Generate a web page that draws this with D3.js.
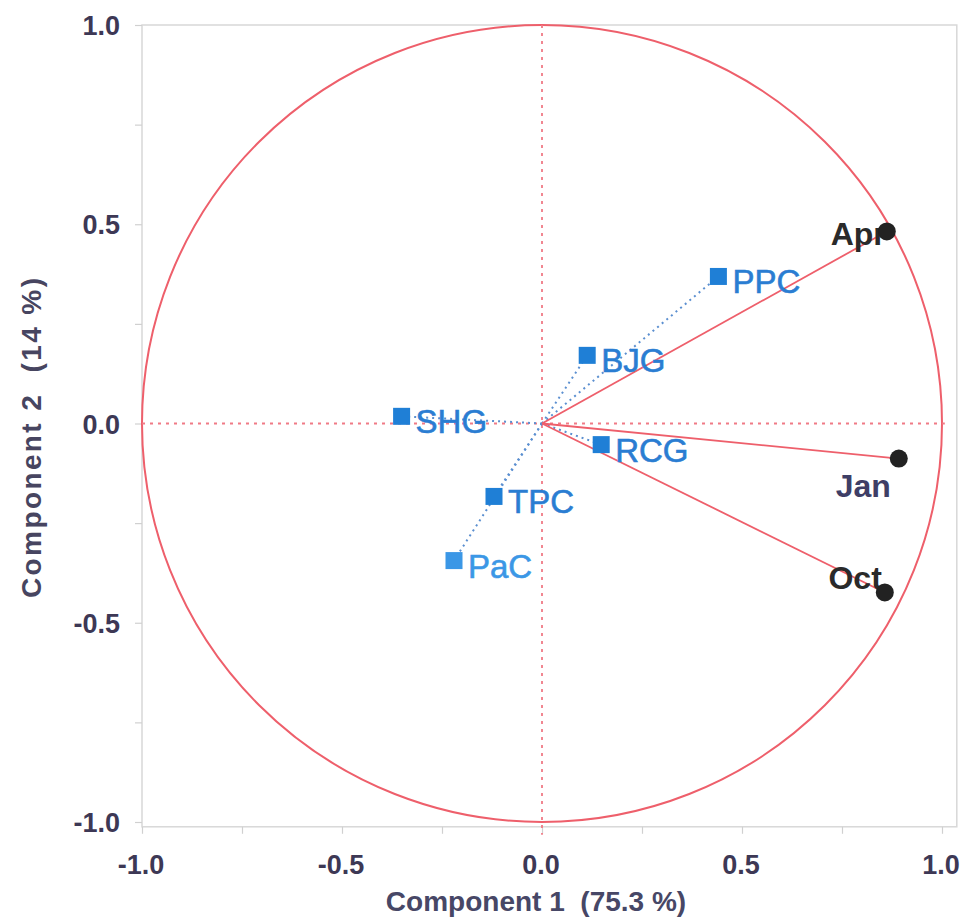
<!DOCTYPE html>
<html><head><meta charset="utf-8">
<script src="https://cdn.jsdelivr.net/npm/d3@7"></script>
<style>body{margin:0;background:#fff}svg{display:block}text.ttl{white-space:pre}</style>
</head><body><svg id="c" width="963" height="923"></svg>
<script>
const varNames = ["PPC","BJG","SHG","RCG","TPC","PaC"];
const varX = [0.441, 0.113, -0.351, 0.148, -0.120, -0.220];
const varY = [0.369, 0.171, 0.018, -0.053, -0.183, -0.344];
const monthNames = ["Apr","Jan","Oct"];
const monthX = [0.862, 0.892, 0.857];
const monthY = [0.482, -0.088, -0.424];
const majorTicks = [-1.0, -0.5, 0.0, 0.5, 1.0];
const minorTicks = [-1, -0.75, -0.5, -0.25, 0, 0.25, 0.5, 0.75, 1];
const xTitle = "Component 1  (75.3 %)";
const yTitle = "Component 2  (14 %)";

const FONT = "Liberation Sans, Arial, Helvetica, sans-serif";
const svg = d3.select("#c");
const x = d3.scaleLinear().domain([-1, 1]).range([142, 942]);
const y = d3.scaleLinear().domain([-1, 1]).range([822, 25]);
const frame = {l: x(-1), t: y(1), r: x(1.037), b: y(-1.012)};

svg.append("rect").attr("x", frame.l).attr("y", frame.t)
  .attr("width", frame.r - frame.l).attr("height", frame.b - frame.t)
  .attr("fill", "none").attr("stroke", "#d8d8d8").attr("stroke-width", 1.5);

// ticks
const xAxis = d3.axisBottom(x).tickValues(minorTicks).tickSize(7).tickFormat("");
const gx = svg.append("g").attr("transform", `translate(0,${frame.b})`).call(xAxis);
gx.select(".domain").remove();
gx.selectAll("line").attr("stroke", "#d0d0d0").attr("stroke-width", 1.2);
const yAxis = d3.axisLeft(y).tickValues(minorTicks).tickSize(7).tickFormat("");
const gy = svg.append("g").attr("transform", `translate(${frame.l},0)`).call(yAxis);
gy.select(".domain").remove();
gy.selectAll("line").attr("stroke", "#d0d0d0").attr("stroke-width", 1.2);

const fmt = d => d3.format(".1f")(d).replace("\u2212", "-");
const tickColor = "#3d3855";
svg.append("g").selectAll("text").data(majorTicks).join("text")
  .attr("x", d => x(d) - 1).attr("y", 874).attr("text-anchor", "middle")
  .attr("font-family", FONT).attr("font-size", 27).attr("font-weight", "bold")
  .attr("fill", tickColor).text(fmt);
svg.append("g").selectAll("text").data(majorTicks).join("text")
  .attr("x", 120).attr("y", d => y(d) + 10).attr("text-anchor", "end")
  .attr("font-family", FONT).attr("font-size", 27).attr("font-weight", "bold")
  .attr("fill", tickColor).text(fmt);

svg.append("text").attr("class", "ttl").attr("x", 536).attr("y", 911).attr("text-anchor", "middle")
  .attr("font-family", FONT).attr("font-size", 28).attr("font-weight", "bold")
  .attr("fill", "#474766").text(xTitle);
svg.append("text").attr("class", "ttl").attr("transform", "translate(41,438) rotate(-90)").attr("text-anchor", "middle")
  .attr("font-family", FONT).attr("font-size", 28).attr("font-weight", "bold")
  .attr("textLength", 320).attr("lengthAdjust", "spacing")
  .attr("fill", "#474560").text(yTitle);

// circle
const red = "#ee5f6b";
svg.append("ellipse").attr("cx", x(0)).attr("cy", y(0))
  .attr("rx", x(1) - x(0)).attr("ry", y(0) - y(1))
  .attr("fill", "none").attr("stroke", red).attr("stroke-width", 2);

// dashed axes
svg.append("line").attr("x1", x(0)).attr("x2", x(0)).attr("y1", y(1)).attr("y2", frame.b + 8)
  .attr("stroke", "#f07a86").attr("stroke-width", 1.8).attr("stroke-dasharray", "3,5");
svg.append("line").attr("x1", x(-1)).attr("x2", frame.r - 12).attr("y1", y(0)).attr("y2", y(0))
  .attr("stroke", "#f07a86").attr("stroke-width", 1.8).attr("stroke-dasharray", "3,5");

const vars = varNames.map((n, i) => ({n, x: varX[i], y: varY[i]}));
const months = monthNames.map((n, i) => ({n, x: monthX[i], y: monthY[i]}));

// dotted lines to variables
svg.append("g").selectAll("line").data(vars).join("line")
  .attr("x1", x(0)).attr("y1", y(0)).attr("x2", d => x(d.x)).attr("y2", d => y(d.y))
  .attr("stroke", "#5b8fd0").attr("stroke-width", 2).attr("stroke-dasharray", "2,4");

// red lines to months
svg.append("g").selectAll("line").data(months).join("line")
  .attr("x1", x(0)).attr("y1", y(0)).attr("x2", d => x(d.x)).attr("y2", d => y(d.y))
  .attr("stroke", red).attr("stroke-width", 1.8);

// variable markers
const blue = "#1f7fd6";
svg.append("g").selectAll("rect").data(vars).join("rect")
  .attr("x", d => x(d.x) - 8.5).attr("y", d => y(d.y) - 8.5).attr("width", 17).attr("height", 17)
  .attr("fill", d => d.n === "PaC" ? "#3b97e6" : blue);
svg.append("g").selectAll("text").data(vars).join("text")
  .attr("x", d => x(d.x) + 14).attr("y", d => y(d.y) + 17)
  .attr("font-family", FONT).attr("font-size", 33)
  .attr("stroke-width", 0.6)
  .attr("fill", d => d.n === "PaC" ? "#3b97e6" : "#2a7dd2")
  .attr("stroke", d => d.n === "PaC" ? "#3b97e6" : "#2a7dd2").text(d => d.n);

// month labels and markers
const monthOff = {Apr: [-1, 14, "end"], Jan: [-8, 38, "end"], Oct: [-3, -3, "end"]};
svg.append("g").selectAll("text").data(months).join("text")
  .attr("x", d => x(d.x) + monthOff[d.n][0]).attr("y", d => y(d.y) + monthOff[d.n][1])
  .attr("text-anchor", d => monthOff[d.n][2])
  .attr("font-family", FONT).attr("font-size", 32).attr("font-weight", "bold")
  .attr("fill", d => d.n === "Jan" ? "#3e3e66" : "#2a2a2a").text(d => d.n);
svg.append("g").selectAll("circle").data(months).join("circle")
  .attr("cx", d => x(d.x)).attr("cy", d => y(d.y)).attr("r", 9).attr("fill", "#222");
</script></body></html>
